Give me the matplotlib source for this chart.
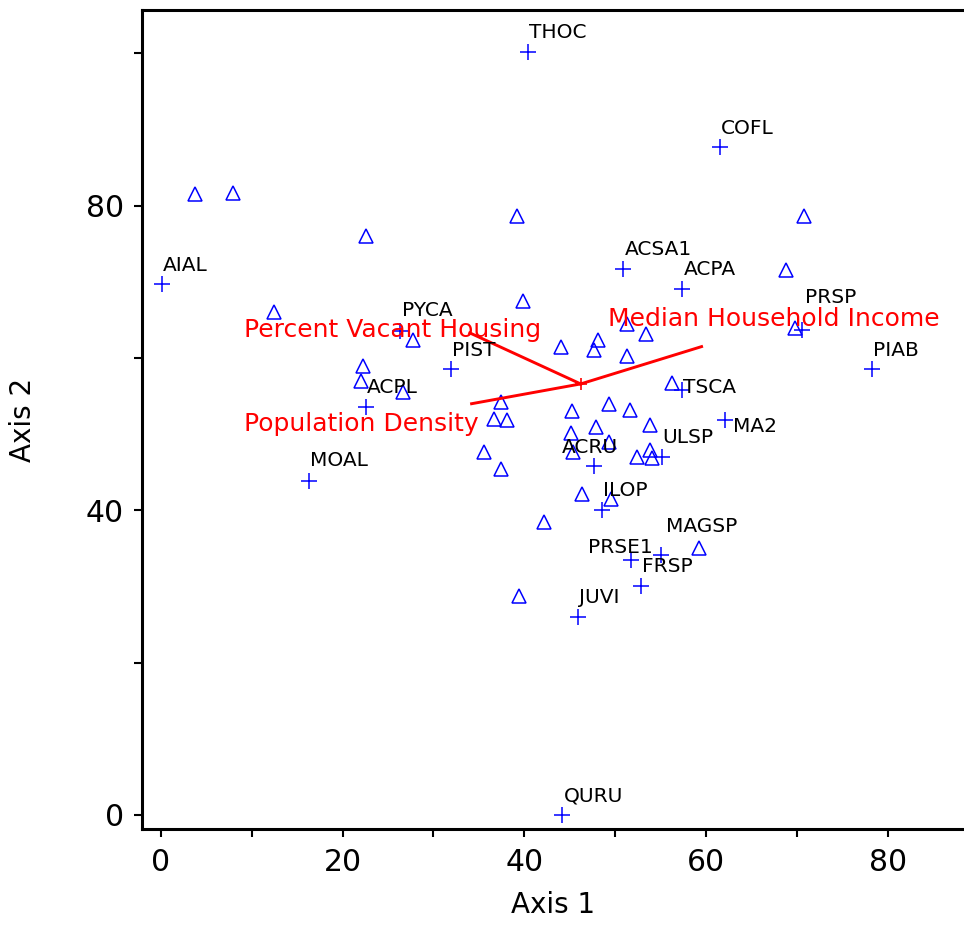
import numpy as np
from matplotlib import pyplot as plt

# labelled species (plus markers)
species = ['THOC', 'COFL', 'AIAL', 'ACSA1', 'ACPA', 'PRSP', 'PYCA', 'PIST', 'PIAB',
           'ACPL', 'TSCA', 'MA2', 'ULSP', 'ACRU', 'MOAL', 'ILOP', 'MAGSP', 'PRSE1',
           'FRSP', 'JUVI', 'QURU']
sp_x = [40.4, 61.5, 0.1, 50.9, 57.4, 70.5, 26.3, 31.9, 78.3,
        22.55, 57.3, 62.1, 55.1, 47.7, 16.3, 48.5, 55.0, 51.7,
        52.8, 45.9, 44.2]
sp_y = [100.2, 87.7, 69.7, 71.7, 69.1, 63.7, 63.6, 58.5, 58.5,
        53.6, 55.8, 51.9, 47.05, 45.8, 43.8, 40.1, 34.1, 33.5,
        30.1, 26.0, 0.0]

# sample units (triangles)
plot_x = [3.8, 8.0, 22.6, 39.2, 39.8, 12.5, 70.8, 68.8, 27.8, 22.2,
          22.0, 26.65, 37.4, 36.7, 38.1, 35.6, 37.4, 42.2, 39.4, 51.3,
          53.4, 44.0, 48.1, 47.7, 51.3, 69.8, 56.2, 45.3, 49.3, 51.6,
          53.8, 47.9, 45.1, 49.3, 45.4, 53.8, 52.4, 54.0, 46.35, 49.5,
          59.25]
plot_y = [81.5, 81.7, 76.0, 78.7, 67.5, 66.1, 78.7, 71.6, 62.4, 58.9,
          57.0, 55.6, 54.2, 52.0, 51.8, 47.6, 45.4, 38.5, 28.8, 64.5,
          63.1, 61.4, 62.4, 61.0, 60.3, 64.0, 56.7, 53.0, 54.0, 53.2,
          51.2, 51.0, 50.2, 49.0, 47.7, 47.9, 47.05, 46.9, 42.2, 41.5,
          35.0]

# biplot overlay
centroid = (46.2, 56.6)
vectors = ['Percent Vacant Housing', 'Population Density', 'Median Household Income']
vec_x = [34.0, 34.2, 59.5]
vec_y = [63.3, 54.0, 61.5]

# label offsets in pixels (default is just above the marker)
label_off = {'PRSP': (3, 27), 'TSCA': (1, -3), 'MA2': (8, -12), 'ACRU': (-32, 13),
             'MAGSP': (5, 23), 'PRSE1': (-43, 7), 'PYCA': (2, 15), 'MOAL': (1, 15)}
vec_off = [(-226, -4), (-228, -27), (-94, 21)]

fig = plt.figure(figsize=(9.64, 9.25), dpi=100)
ax = fig.add_axes([0.1473, 0.1038, 0.8527, 0.8854])

ax.plot(plot_x, plot_y, '^', ls='none', mfc='none', mec='#0000ff', ms=10, mew=1.1)
ax.plot(sp_x, sp_y, '+', ls='none', color='#0000ff', ms=11, mew=1.1)

for name, x, y in zip(species, sp_x, sp_y):
    ax.annotate(name, (x, y), xytext=label_off.get(name, (1, 13.5)),
                textcoords='offset pixels', ha='left', va='baseline',
                fontsize=14.5, color='black')

for name, x, y, off in zip(vectors, vec_x, vec_y, vec_off):
    ax.plot([centroid[0], x], [centroid[1], y], color='#ff0000', lw=2.1)
    ax.annotate(name, (x, y), xytext=off, textcoords='offset pixels',
                ha='left', va='baseline', fontsize=18, color='#ff0000')
ax.plot([centroid[0]], [centroid[1]], '+', color='#ff0000', ms=9, mew=1.2)

ax.set_xlim(-2.06, 88.37)
ax.set_ylim(-1.84, 105.7)
ax.set_xticks([0, 20, 40, 60, 80])
ax.set_xticks([10, 30, 50, 70], minor=True)
ax.set_yticks([0, 40, 80])
ax.set_yticks([20, 60, 100], minor=True)

for s in ['left', 'bottom', 'top']:
    ax.spines[s].set_linewidth(2.2)
ax.spines['right'].set_visible(False)
ax.tick_params(which='both', direction='out', length=6, width=1.5, labelsize=21.5)
ax.tick_params(axis='x', which='both', pad=8)
ax.tick_params(axis='y', which='both', pad=7)

ax.set_xlabel('Axis 1', fontsize=20, labelpad=10)
ax.set_ylabel('Axis 2', fontsize=20, labelpad=35)

fig.savefig('out.png', dpi=100)
